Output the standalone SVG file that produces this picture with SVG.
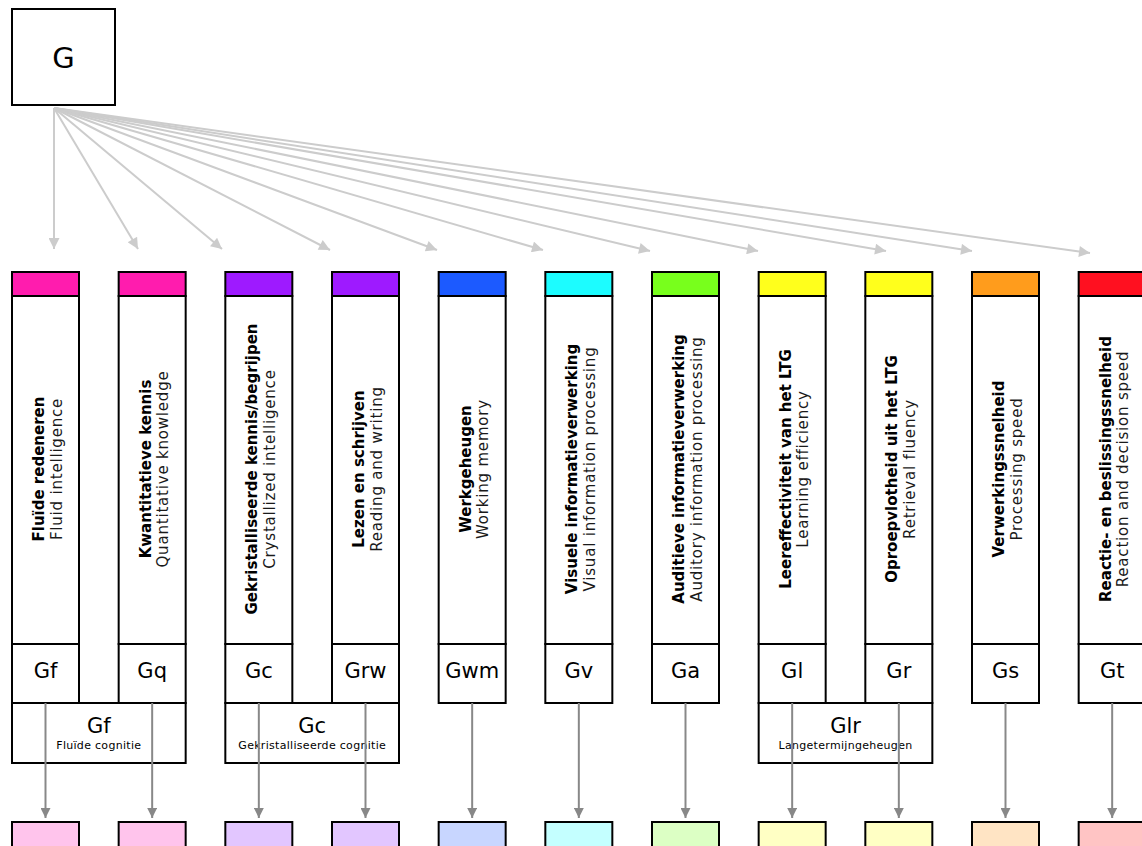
<svg xmlns="http://www.w3.org/2000/svg" width="1142" height="846" viewBox="0 0 1142 846">
<defs>
<style>
.box{fill:#fff;stroke:#000;stroke-width:2}
.hd{stroke:#000;stroke-width:2}
.b{font-family:"DejaVu Sans",Verdana,sans-serif;font-weight:bold;font-size:15px;text-anchor:middle;fill:#000}
.e{font-family:"DejaVu Sans",Verdana,sans-serif;font-size:15px;letter-spacing:0.8px;text-anchor:middle;fill:#1a1a1a}
.lbl{font-family:"DejaVu Sans",Verdana,sans-serif;font-size:21px;text-anchor:middle;fill:#000}
.sub{font-family:"DejaVu Sans",Verdana,sans-serif;font-size:11px;letter-spacing:0.3px;text-anchor:middle;fill:#000}
.top{stroke:#cccccc;stroke-width:2;fill:none;marker-end:url(#ahl)}
.bot{stroke:#888888;stroke-width:2;fill:none;marker-end:url(#ahd)}
</style>
<marker id="ahl" viewBox="0 0 10 10" refX="10" refY="5" markerWidth="13" markerHeight="11" markerUnits="userSpaceOnUse" orient="auto"><path d="M0,0 L10,5 L0,10 z" fill="#cccccc"/></marker>
<marker id="ahd" viewBox="0 0 10 10" refX="10" refY="5" markerWidth="13" markerHeight="10" markerUnits="userSpaceOnUse" orient="auto"><path d="M0,0 L10,5 L0,10 z" fill="#888888"/></marker>
</defs>
<rect width="1142" height="846" fill="#fff"/>

<g id="G">
<rect class="box" x="12" y="9" width="103" height="96"/>
<text class="lbl" x="63.5" y="68" style="font-size:29px">G</text>
</g>

<g id="col-Gf">
<rect class="hd" x="12" y="272" width="67" height="24" fill="#ff1cae"/>
<rect class="box" x="12" y="296" width="67" height="348"/>
<rect class="box" x="12" y="644" width="67" height="59"/>
<g transform="translate(45.5,469) rotate(-90)"><text class="b" x="0" y="-1.5">Fluïde redeneren</text><text class="e" x="0" y="16">Fluid intelligence</text></g>
<text class="lbl" x="45.5" y="678">Gf</text>
</g>
<g id="col-Gq">
<rect class="hd" x="118.67" y="272" width="67" height="24" fill="#ff1cae"/>
<rect class="box" x="118.67" y="296" width="67" height="348"/>
<rect class="box" x="118.67" y="644" width="67" height="59"/>
<g transform="translate(152.17,469) rotate(-90)"><text class="b" x="0" y="-1.5">Kwantitatieve kennis</text><text class="e" x="0" y="16">Quantitative knowledge</text></g>
<text class="lbl" x="152.17" y="678">Gq</text>
</g>
<g id="col-Gc">
<rect class="hd" x="225.33" y="272" width="67" height="24" fill="#9e1aff"/>
<rect class="box" x="225.33" y="296" width="67" height="348"/>
<rect class="box" x="225.33" y="644" width="67" height="59"/>
<g transform="translate(258.83,469) rotate(-90)"><text class="b" x="0" y="-1.5">Gekristalliseerde kennis/begrijpen</text><text class="e" x="0" y="16">Crystallized intelligence</text></g>
<text class="lbl" x="258.83" y="678">Gc</text>
</g>
<g id="col-Grw">
<rect class="hd" x="332" y="272" width="67" height="24" fill="#9e1aff"/>
<rect class="box" x="332" y="296" width="67" height="348"/>
<rect class="box" x="332" y="644" width="67" height="59"/>
<g transform="translate(365.5,469) rotate(-90)"><text class="b" x="0" y="-1.5">Lezen en schrijven</text><text class="e" x="0" y="16">Reading and writing</text></g>
<text class="lbl" x="365.5" y="678">Grw</text>
</g>
<g id="col-Gwm">
<rect class="hd" x="438.67" y="272" width="67" height="24" fill="#1c5aff"/>
<rect class="box" x="438.67" y="296" width="67" height="348"/>
<rect class="box" x="438.67" y="644" width="67" height="59"/>
<g transform="translate(472.17,469) rotate(-90)"><text class="b" x="0" y="-1.5">Werkgeheugen</text><text class="e" x="0" y="16">Working memory</text></g>
<text class="lbl" x="472.17" y="678">Gwm</text>
</g>
<g id="col-Gv">
<rect class="hd" x="545.33" y="272" width="67" height="24" fill="#1cfcff"/>
<rect class="box" x="545.33" y="296" width="67" height="348"/>
<rect class="box" x="545.33" y="644" width="67" height="59"/>
<g transform="translate(578.83,469) rotate(-90)"><text class="b" x="0" y="-1.5">Visuele informatieverwerking</text><text class="e" x="0" y="16">Visual information processing</text></g>
<text class="lbl" x="578.83" y="678">Gv</text>
</g>
<g id="col-Ga">
<rect class="hd" x="652" y="272" width="67" height="24" fill="#78ff1c"/>
<rect class="box" x="652" y="296" width="67" height="348"/>
<rect class="box" x="652" y="644" width="67" height="59"/>
<g transform="translate(685.5,469) rotate(-90)"><text class="b" x="0" y="-1.5">Auditieve informatieverwerking</text><text class="e" x="0" y="16">Auditory information processing</text></g>
<text class="lbl" x="685.5" y="678">Ga</text>
</g>
<g id="col-Gl">
<rect class="hd" x="758.67" y="272" width="67" height="24" fill="#ffff1c"/>
<rect class="box" x="758.67" y="296" width="67" height="348"/>
<rect class="box" x="758.67" y="644" width="67" height="59"/>
<g transform="translate(792.17,469) rotate(-90)"><text class="b" x="0" y="-1.5">Leereffectiviteit van het LTG</text><text class="e" x="0" y="16">Learning efficiency</text></g>
<text class="lbl" x="792.17" y="678">Gl</text>
</g>
<g id="col-Gr">
<rect class="hd" x="865.33" y="272" width="67" height="24" fill="#ffff1c"/>
<rect class="box" x="865.33" y="296" width="67" height="348"/>
<rect class="box" x="865.33" y="644" width="67" height="59"/>
<g transform="translate(898.83,469) rotate(-90)"><text class="b" x="0" y="-1.5">Oproepvlotheid uit het LTG</text><text class="e" x="0" y="16">Retrieval fluency</text></g>
<text class="lbl" x="898.83" y="678">Gr</text>
</g>
<g id="col-Gs">
<rect class="hd" x="972" y="272" width="67" height="24" fill="#ff9c1c"/>
<rect class="box" x="972" y="296" width="67" height="348"/>
<rect class="box" x="972" y="644" width="67" height="59"/>
<g transform="translate(1005.5,469) rotate(-90)"><text class="b" x="0" y="-1.5">Verwerkingssnelheid</text><text class="e" x="0" y="16">Processing speed</text></g>
<text class="lbl" x="1005.5" y="678">Gs</text>
</g>
<g id="col-Gt">
<rect class="hd" x="1078.67" y="272" width="67" height="24" fill="#ff1020"/>
<rect class="box" x="1078.67" y="296" width="67" height="348"/>
<rect class="box" x="1078.67" y="644" width="67" height="59"/>
<g transform="translate(1112.17,469) rotate(-90)"><text class="b" x="0" y="-1.5">Reactie- en beslissingssnelheid</text><text class="e" x="0" y="16">Reaction and decision speed</text></g>
<text class="lbl" x="1112.17" y="678">Gt</text>
</g>

<g id="grp-Gf">
<rect class="box" x="12" y="703" width="173.67" height="60"/>
<text class="lbl" x="98.8" y="733">Gf</text>
<text class="sub" x="98.8" y="749">Fluïde cognitie</text>
</g>
<g id="grp-Gc">
<rect class="box" x="225.33" y="703" width="173.67" height="60"/>
<text class="lbl" x="312.2" y="733">Gc</text>
<text class="sub" x="312.2" y="749">Gekristalliseerde cognitie</text>
</g>
<g id="grp-Glr">
<rect class="box" x="758.67" y="703" width="173.67" height="60"/>
<text class="lbl" x="845.5" y="733">Glr</text>
<text class="sub" x="845.5" y="749">Langetermijngeheugen</text>
</g>

<g id="out-Gf"><rect class="hd" x="12" y="822" width="67" height="40" fill="#ffc4ec"/></g>
<g id="out-Gq"><rect class="hd" x="118.67" y="822" width="67" height="40" fill="#ffc4ec"/></g>
<g id="out-Gc"><rect class="hd" x="225.33" y="822" width="67" height="40" fill="#e2c6ff"/></g>
<g id="out-Grw"><rect class="hd" x="332" y="822" width="67" height="40" fill="#e2c6ff"/></g>
<g id="out-Gwm"><rect class="hd" x="438.67" y="822" width="67" height="40" fill="#c8d6ff"/></g>
<g id="out-Gv"><rect class="hd" x="545.33" y="822" width="67" height="40" fill="#c4ffff"/></g>
<g id="out-Ga"><rect class="hd" x="652" y="822" width="67" height="40" fill="#dcffc4"/></g>
<g id="out-Gl"><rect class="hd" x="758.67" y="822" width="67" height="40" fill="#ffffc4"/></g>
<g id="out-Gr"><rect class="hd" x="865.33" y="822" width="67" height="40" fill="#ffffc4"/></g>
<g id="out-Gs"><rect class="hd" x="972" y="822" width="67" height="40" fill="#ffe4c4"/></g>
<g id="out-Gt"><rect class="hd" x="1078.67" y="822" width="67" height="40" fill="#ffc4c4"/></g>

<g id="connectors">
<path class="top" d="M54,108 L54,249"/>
<path class="top" d="M54,108 L138,249"/>
<path class="top" d="M54,108 L222,249"/>
<path class="top" d="M54,108 L330,250"/>
<path class="top" d="M54,108 L437,250"/>
<path class="top" d="M54,108 L543,250"/>
<path class="top" d="M54,108 L650,251"/>
<path class="top" d="M54,108 L758,251"/>
<path class="top" d="M54,108 L886,251"/>
<path class="top" d="M54,108 L972,251"/>
<path class="top" d="M54,108 L1090,253"/>
<path class="bot" d="M45.5,703 L45.5,818"/>
<path class="bot" d="M152.17,703 L152.17,818"/>
<path class="bot" d="M258.83,703 L258.83,818"/>
<path class="bot" d="M365.5,703 L365.5,818"/>
<path class="bot" d="M472.17,703 L472.17,818"/>
<path class="bot" d="M578.83,703 L578.83,818"/>
<path class="bot" d="M685.5,703 L685.5,818"/>
<path class="bot" d="M792.17,703 L792.17,818"/>
<path class="bot" d="M898.83,703 L898.83,818"/>
<path class="bot" d="M1005.5,703 L1005.5,818"/>
<path class="bot" d="M1112.17,703 L1112.17,818"/>
</g>
</svg>
